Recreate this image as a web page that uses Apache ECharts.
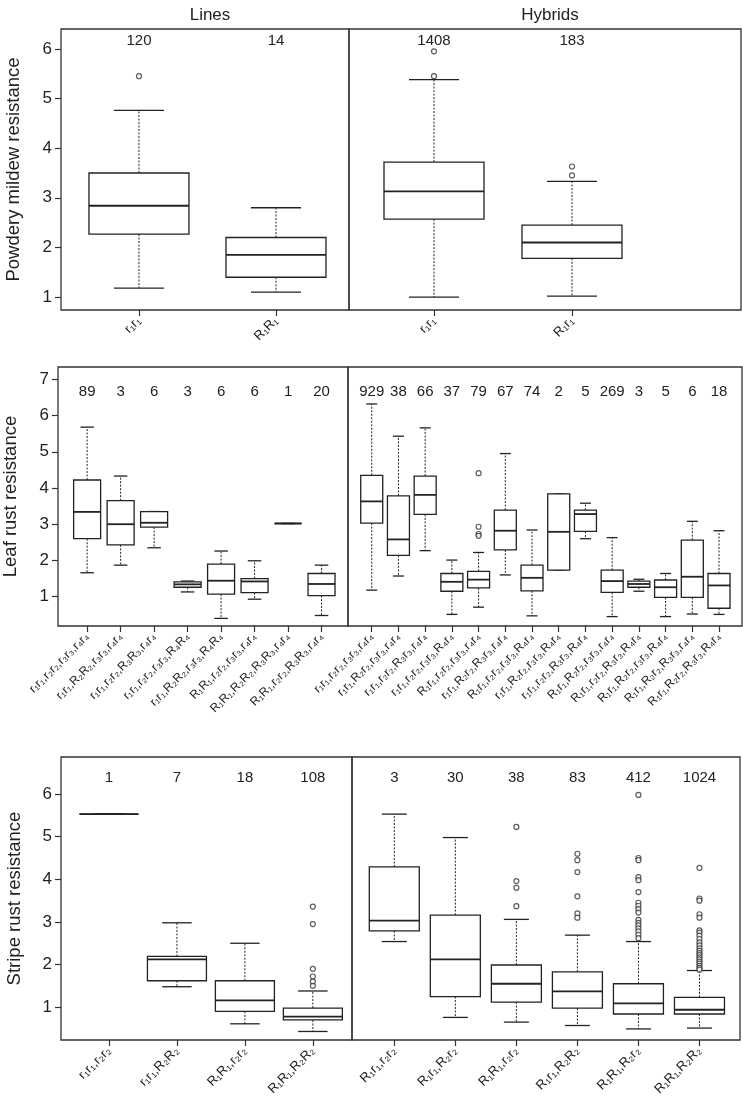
<!DOCTYPE html>
<html>
<head>
<meta charset="utf-8">
<script src="https://cdn.jsdelivr.net/npm/echarts@6/dist/echarts.min.js"></script>
<style>
  html, body { margin: 0; padding: 0; background: #fff; }
  #chart { width: 743px; height: 1107px; }
</style>
</head>
<body>
<div id="chart"></div>
<script>
// ---- data: [lower whisker, Q1, median, Q3, upper whisker] ----
// powdery mildew
const pmLineCats = ['r₁r₁', 'R₁R₁'];
const pmLineN = [120, 14];
const pmLineStats = [[1.18, 2.27, 2.84, 3.5, 4.76], [1.1, 1.4, 1.85, 2.2, 2.8]];
const pmLineOut = [[5.45], []];
const pmHybCats = ['r₁r₁', 'R₁r₁'];
const pmHybN = [1408, 183];
const pmHybStats = [[1.0, 2.57, 3.13, 3.72, 5.38], [1.02, 1.78, 2.1, 2.45, 3.33]];
const pmHybOut = [[5.45, 5.95], [3.45, 3.63]];

// leaf rust
const lrLineCats = [
  'r₁r₁,r₂r₂,r₃r₃,r₄r₄', 'r₁r₁,R₂R₂,r₃r₃,r₄r₄', 'r₁r₁,r₂r₂,R₃R₃,r₄r₄', 'r₁r₁,r₂r₂,r₃r₃,R₄R₄',
  'r₁r₁,R₂R₂,r₃r₃,R₄R₄', 'R₁R₁,r₂r₂,r₃r₃,r₄r₄', 'R₁R₁,R₂R₂,R₃R₃,r₄r₄', 'R₁R₁,r₂r₂,R₃R₃,r₄r₄'
];
const lrLineN = [89, 3, 6, 3, 6, 6, 1, 20];
const lrLineStats = [
  [1.66, 2.6, 3.34, 4.22, 5.68], [1.87, 2.43, 3.0, 3.65, 4.33], [2.35, 2.92, 3.04, 3.35, 3.35],
  [1.13, 1.26, 1.34, 1.41, 1.43], [0.4, 1.07, 1.44, 1.9, 2.26], [0.93, 1.11, 1.42, 1.5, 1.99],
  [3.02, 3.02, 3.02, 3.02, 3.02], [0.48, 1.03, 1.35, 1.64, 1.87]
];
const lrLineOut = [[], [], [], [], [], [], [], []];
const lrHybCats = [
  'r₁r₁,r₂r₂,r₃r₃,r₄r₄', 'r₁r₁,R₂r₂,r₃r₃,r₄r₄', 'r₁r₁,r₂r₂,R₃r₃,r₄r₄', 'r₁r₁,r₂r₂,r₃r₃,R₄r₄',
  'R₁r₁,r₂r₂,r₃r₃,r₄r₄', 'r₁r₁,R₂r₂,R₃r₃,r₄r₄', 'R₁r₁,r₂r₂,r₃r₃,R₄r₄', 'r₁r₁,R₂r₂,r₃r₃,R₄r₄',
  'r₁r₁,r₂r₂,R₃r₃,R₄r₄', 'R₁r₁,R₂r₂,r₃r₃,r₄r₄', 'R₁r₁,r₂r₂,R₃r₃,R₄r₄', 'R₁r₁,R₂r₂,r₃r₃,R₄r₄',
  'R₁r₁,R₂r₂,R₃r₃,r₄r₄', 'R₁r₁,R₂r₂,R₃r₃,R₄r₄'
];
const lrHybN = [929, 38, 66, 37, 79, 67, 74, 2, 5, 269, 3, 5, 6, 18];
const lrHybStats = [
  [1.18, 3.03, 3.63, 4.35, 6.32], [1.57, 2.14, 2.58, 3.78, 5.43], [2.27, 3.27, 3.81, 4.33, 5.66],
  [0.51, 1.15, 1.41, 1.64, 2.01], [0.71, 1.24, 1.47, 1.7, 2.22], [1.6, 2.29, 2.82, 3.39, 4.95],
  [0.47, 1.16, 1.52, 1.87, 2.84], [1.73, 1.73, 2.79, 3.84, 3.84], [2.6, 2.8, 3.28, 3.39, 3.58],
  [0.45, 1.12, 1.43, 1.73, 2.63], [1.15, 1.26, 1.35, 1.43, 1.48], [0.45, 0.98, 1.26, 1.46, 1.64],
  [0.52, 0.98, 1.55, 2.56, 3.08], [0.51, 0.68, 1.31, 1.64, 2.82]
];
const lrHybOut = [[], [], [], [], [4.41, 2.93, 2.73, 2.68], [], [], [], [], [], [], [], [], []];

// stripe rust
const srLineCats = ['r₁r₁,r₂r₂', 'r₁r₁,R₂R₂', 'R₁R₁,r₂r₂', 'R₁R₁,R₂R₂'];
const srLineN = [1, 7, 18, 108];
const srLineStats = [
  [5.53, 5.53, 5.53, 5.53, 5.53], [1.48, 1.62, 2.12, 2.19, 2.98],
  [0.61, 0.9, 1.16, 1.62, 2.5], [0.43, 0.7, 0.78, 0.98, 1.38]
];
const srLineOut = [[], [], [], [3.36, 2.95, 1.9, 1.72, 1.6, 1.5]];
const srHybCats = ['R₁r₁,r₂r₂', 'R₁r₁,R₂r₂', 'R₁R₁,r₂r₂', 'R₁r₁,R₂R₂', 'R₁R₁,R₂r₂', 'R₁R₁,R₂R₂'];
const srHybN = [3, 30, 38, 83, 412, 1024];
const srHybStats = [
  [2.54, 2.79, 3.03, 4.29, 5.53], [0.76, 1.25, 2.12, 3.16, 4.98], [0.65, 1.12, 1.55, 1.99, 3.06],
  [0.57, 0.98, 1.37, 1.83, 2.69], [0.49, 0.84, 1.09, 1.55, 2.54], [0.51, 0.84, 0.94, 1.23, 1.86]
];
const srHybOut = [
  [], [], [5.23, 3.96, 3.8, 3.37], [4.6, 4.45, 4.17, 3.6, 3.2, 3.1],
  [5.98, 4.5, 4.45, 4.05, 3.98, 3.7, 3.45, 3.38, 3.3, 3.22, 3.05, 2.98, 2.92, 2.85, 2.78, 2.7, 2.62],
  [4.27, 3.55, 3.5, 3.18, 3.1, 2.8, 2.75, 2.68, 2.6, 2.52, 2.45, 2.38, 2.32, 2.27, 2.22, 2.17, 2.12,
   2.07, 2.02, 1.97, 1.92, 1.88]
];

const FONT = 'Liberation Sans, Arial, sans-serif';
const INK = '#222';

// one entry per grid (lines / hybrids for each trait)
const panels = [
  { cats: pmLineCats, n: pmLineN, stats: pmLineStats, out: pmLineOut,
    grid: { left: 61, top: 29, width: 288, height: 281 }, x: [0.431, 2.533], y: [0.74, 6.4],
    yTicks: [1, 2, 3, 4, 5, 6], name: 'Powdery mildew resistance', nameGap: 38,
    boxW: 100, countY: 6.17, labelSize: 13 },
  { cats: pmHybCats, n: pmHybN, stats: pmHybStats, out: pmHybOut,
    grid: { left: 349, top: 29, width: 392, height: 281 }, x: [0.384, 3.225], y: [0.74, 6.4],
    boxW: 100, countY: 6.17, labelSize: 13 },
  { cats: lrLineCats, n: lrLineN, stats: lrLineStats, out: lrLineOut,
    grid: { left: 58, top: 367, width: 290, height: 259 }, x: [0.13, 8.79], y: [0.19, 7.34],
    yTicks: [1, 2, 3, 4, 5, 6, 7], name: 'Leaf rust resistance', nameGap: 38,
    boxW: 27, countY: 6.65, labelSize: 12 },
  { cats: lrHybCats, n: lrHybN, stats: lrHybStats, out: lrHybOut,
    grid: { left: 348, top: 367, width: 394, height: 259 }, x: [0.112, 14.86], y: [0.19, 7.34],
    boxW: 22, countY: 6.65, labelSize: 12 },
  { cats: srLineCats, n: srLineN, stats: srLineStats, out: srLineOut,
    grid: { left: 61, top: 757, width: 291, height: 283 }, x: [0.294, 4.576], y: [0.23, 6.87],
    yTicks: [1, 2, 3, 4, 5, 6], name: 'Stripe rust resistance', nameGap: 37,
    boxW: 59, countY: 6.39, labelSize: 13 },
  { cats: srHybCats, n: srHybN, stats: srHybStats, out: srHybOut,
    grid: { left: 352, top: 757, width: 388, height: 283 }, x: [0.307, 6.664], y: [0.23, 6.87],
    boxW: 50, countY: 6.39, labelSize: 13 }
];

function boxRender(boxW) {
  return function (params, api) {
    const x = api.value(0);
    const lo = api.coord([x, api.value(1)]);
    const q1 = api.coord([x, api.value(2)]);
    const md = api.coord([x, api.value(3)]);
    const q3 = api.coord([x, api.value(4)]);
    const hi = api.coord([x, api.value(5)]);
    const cx = lo[0], hw = boxW / 2, cw = boxW / 4;
    const solid = { stroke: INK, lineWidth: 1.3, fill: null };
    const dash = { stroke: INK, lineWidth: 1, lineDash: [2, 1.5] };
    return {
      type: 'group',
      children: [
        { type: 'line', shape: { x1: cx, y1: q3[1], x2: cx, y2: hi[1] }, style: dash },
        { type: 'line', shape: { x1: cx, y1: q1[1], x2: cx, y2: lo[1] }, style: dash },
        { type: 'line', shape: { x1: cx - cw, y1: hi[1], x2: cx + cw, y2: hi[1] }, style: solid },
        { type: 'line', shape: { x1: cx - cw, y1: lo[1], x2: cx + cw, y2: lo[1] }, style: solid },
        { type: 'rect', shape: { x: cx - hw, y: q3[1], width: boxW, height: q1[1] - q3[1] },
          style: { stroke: INK, lineWidth: 1.3, fill: '#fff' } },
        { type: 'line', shape: { x1: cx - hw, y1: md[1], x2: cx + hw, y2: md[1] },
          style: { stroke: INK, lineWidth: 1.8 } }
      ]
    };
  };
}

function countRender(params, api) {
  const p = api.coord([api.value(0), api.value(1)]);
  return {
    type: 'text', x: p[0], y: p[1],
    style: { text: String(api.value(2)), align: 'center', verticalAlign: 'middle',
             font: '15px ' + FONT, fill: INK }
  };
}

const grid = [], xAxis = [], yAxis = [], series = [];
panels.forEach((p, i) => {
  const pos = p.cats.map((c, k) => k + 1);
  grid.push(Object.assign({ show: true, borderColor: '#333', borderWidth: 1.3,
    backgroundColor: 'transparent' }, p.grid));
  xAxis.push({
    type: 'value', gridIndex: i, min: p.x[0], max: p.x[1],
    axisLine: { show: false, onZero: false }, splitLine: { show: false },
    axisTick: { show: true, customValues: pos, length: 6, lineStyle: { color: '#333', width: 1.2 } },
    axisLabel: { customValues: pos, formatter: v => p.cats[Math.round(v) - 1] || '',
      rotate: 45, fontSize: p.labelSize, fontFamily: FONT, color: INK, margin: 9 }
  });
  if (p.name) {
    yAxis.push({
      type: 'value', gridIndex: i, min: p.y[0], max: p.y[1],
      name: p.name, nameLocation: 'middle', nameGap: p.nameGap,
      nameTextStyle: { fontSize: 18.5, fontFamily: FONT, color: INK },
      axisLine: { show: false, onZero: false }, splitLine: { show: false },
      axisTick: { show: true, customValues: p.yTicks, length: 6, lineStyle: { color: '#333', width: 1.2 } },
      axisLabel: { customValues: p.yTicks, fontSize: 17, fontFamily: FONT, color: INK, margin: 9 }
    });
  } else {
    yAxis.push({ type: 'value', gridIndex: i, min: p.y[0], max: p.y[1], show: false,
      splitLine: { show: false } });
  }
  series.push({
    type: 'custom', xAxisIndex: i, yAxisIndex: i, clip: false, silent: true,
    renderItem: boxRender(p.boxW),
    encode: { x: 0, y: [1, 2, 3, 4, 5] },
    data: p.stats.map((s, k) => [k + 1].concat(s))
  });
  const outPts = [];
  p.out.forEach((arr, k) => arr.forEach(v => outPts.push([k + 1, v])));
  series.push({
    type: 'scatter', xAxisIndex: i, yAxisIndex: i, silent: true,
    symbol: 'circle', symbolSize: 5,
    itemStyle: { color: '#fff', borderColor: '#333', borderWidth: 1.2 },
    data: outPts
  });
  series.push({
    type: 'custom', xAxisIndex: i, yAxisIndex: i, clip: false, silent: true,
    renderItem: countRender,
    encode: { x: 0, y: 1 },
    data: p.n.map((v, k) => [k + 1, p.countY, v])
  });
});

const chart = echarts.init(document.getElementById('chart'), null, { renderer: 'canvas' });
chart.setOption({
  animation: false,
  backgroundColor: '#fff',
  title: [
    { text: 'Lines', left: 205, top: 2, textAlign: 'center',
      textStyle: { fontSize: 17, fontWeight: 'normal', fontFamily: FONT, color: INK } },
    { text: 'Hybrids', left: 545, top: 2, textAlign: 'center',
      textStyle: { fontSize: 17, fontWeight: 'normal', fontFamily: FONT, color: INK } }
  ],
  grid: grid,
  xAxis: xAxis,
  yAxis: yAxis,
  series: series
});
</script>
</body>
</html>
